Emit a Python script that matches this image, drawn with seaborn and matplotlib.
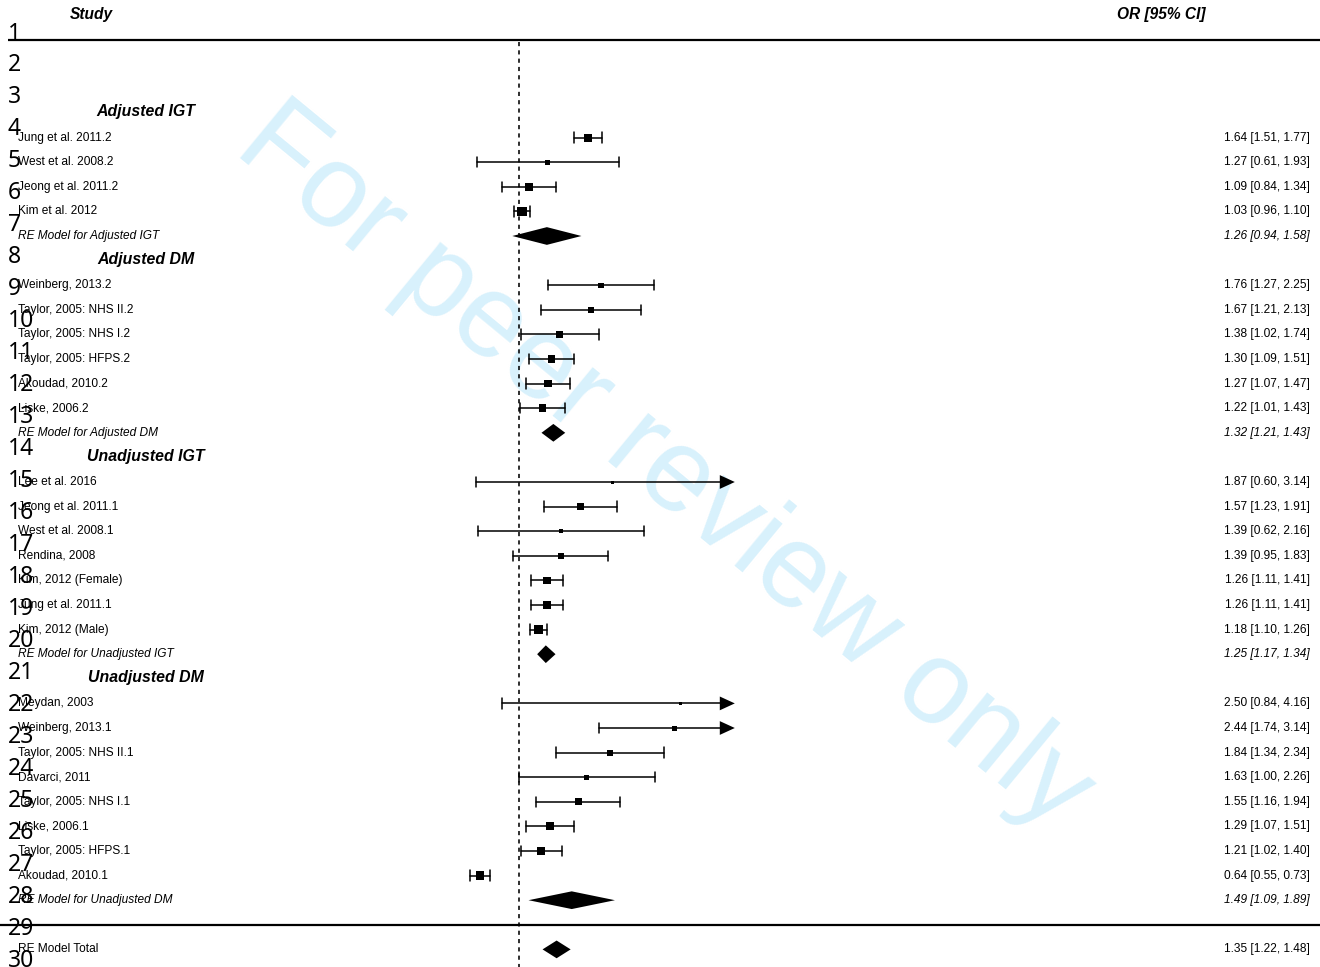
import numpy as np
import pandas as pd
import matplotlib
matplotlib.use("Agg")
import matplotlib.pyplot as plt
import seaborn as sns

# ---- data -------------------------------------------------------------
groups = ["Adjusted IGT", "Adjusted DM", "Unadjusted IGT", "Unadjusted DM"]

studies = [
    ["Jung et al. 2011.2", "West et al. 2008.2", "Jeong et al. 2011.2", "Kim et al. 2012"],
    ["Weinberg, 2013.2", "Taylor, 2005: NHS II.2", "Taylor, 2005: NHS I.2",
     "Taylor, 2005: HFPS.2", "Akoudad, 2010.2", "Liske, 2006.2"],
    ["Lee et al. 2016", "Jeong et al. 2011.1", "West et al. 2008.1", "Rendina, 2008",
     "Kim, 2012 (Female)", "Jung et al. 2011.1", "Kim, 2012 (Male)"],
    ["Meydan, 2003", "Weinberg, 2013.1", "Taylor, 2005: NHS II.1", "Davarci, 2011",
     "Taylor, 2005: NHS I.1", "Liske, 2006.1", "Taylor, 2005: HFPS.1", "Akoudad, 2010.1"],
]
odds = [
    [1.64, 1.27, 1.09, 1.03],
    [1.76, 1.67, 1.38, 1.30, 1.27, 1.22],
    [1.87, 1.57, 1.39, 1.39, 1.26, 1.26, 1.18],
    [2.50, 2.44, 1.84, 1.63, 1.55, 1.29, 1.21, 0.64],
]
ci_low = [
    [1.51, 0.61, 0.84, 0.96],
    [1.27, 1.21, 1.02, 1.09, 1.07, 1.01],
    [0.60, 1.23, 0.62, 0.95, 1.11, 1.11, 1.10],
    [0.84, 1.74, 1.34, 1.00, 1.16, 1.07, 1.02, 0.55],
]
ci_high = [
    [1.77, 1.93, 1.34, 1.10],
    [2.25, 2.13, 1.74, 1.51, 1.47, 1.43],
    [3.14, 1.91, 2.16, 1.83, 1.41, 1.41, 1.26],
    [4.16, 3.14, 2.34, 2.26, 1.94, 1.51, 1.40, 0.73],
]
# relative study weights (square side in pixels)
weight_px = [
    [8.0, 5.0, 8.0, 9.5],
    [5.3, 5.7, 6.7, 7.3, 7.7, 7.7],
    [3.0, 7.0, 4.5, 5.5, 7.7, 7.7, 8.7],
    [3.0, 5.0, 6.0, 5.0, 7.0, 8.0, 8.0, 8.5],
]

pooled_or = [1.26, 1.32, 1.25, 1.49]
pooled_low = [0.94, 1.21, 1.17, 1.09]
pooled_high = [1.58, 1.43, 1.34, 1.89]

total_or, total_low, total_high = 1.35, 1.22, 1.48

# ---- layout helpers ---------------------------------------------------
W, H = 1320, 967
ROW0_PX, ROW_PX = 113.0, 24.6      # pixel y of first row and row spacing
REF_PX, UNIT_PX = 518.8, 108.0     # pixel x of OR = 1 and pixels per OR unit
ALIM = 3.0                         # right clipping limit of the CI axis


def xd(px):
    return 1.0 + (px - REF_PX) / UNIT_PX


def yd(px):
    return (px - ROW0_PX) / ROW_PX


# assign rows: header, studies, pooled estimate per subgroup
recs = []
header_rows, pooled_rows = [], []
r = 0
for gi, g in enumerate(groups):
    header_rows.append(r)
    r += 1
    for name, o, lo, hi, w in zip(studies[gi], odds[gi], ci_low[gi], ci_high[gi], weight_px[gi]):
        recs.append(dict(study=name, group=g, OR=o, lo=lo, hi=hi, w=w, row=r))
        r += 1
    pooled_rows.append(r)
    r += 1
sep_row = r
total_row = r + 1
df = pd.DataFrame(recs)
df["s"] = (df["w"] * 0.72) ** 2

# ---- figure -----------------------------------------------------------
sns.set_theme(style="white")
plt.rcParams["font.family"] = ["Liberation Sans", "DejaVu Sans"]
plt.rcParams["text.color"] = "black"

fig = plt.figure(figsize=(W / 100, H / 100), dpi=100)
ax = fig.add_axes([0, 0, 1, 1])

# watermark
ax.text(xd(664), yd(468), "For peer review only", fontsize=85, color="#d8f1fc",
        rotation=-39.5, rotation_mode="anchor", ha="center", va="center", zorder=0)

# reference line and rules
ax.plot([1, 1], [yd(42), yd(H)], color="black", lw=1.15, dashes=(2.6, 2.6), zorder=1)
ax.plot([xd(8), xd(W)], [yd(40), yd(40)], color="black", lw=1.6, solid_capstyle="butt")
ax.plot([xd(0), xd(W)], [sep_row, sep_row], color="black", lw=1.6, solid_capstyle="butt")

# confidence intervals
lw_ci = 1.1
cap = 0.21
for _, d in df.iterrows():
    hi = min(d["hi"], ALIM)
    if d["hi"] > ALIM:
        ah, al = 0.28, 15 / UNIT_PX
        ax.plot([d["lo"], ALIM - al], [d["row"]] * 2, color="black", lw=lw_ci)
        ax.fill([ALIM - al, ALIM, ALIM - al], [d["row"] - ah, d["row"], d["row"] + ah],
                color="black", lw=0)
    else:
        ax.plot([d["lo"], hi], [d["row"]] * 2, color="black", lw=lw_ci)
        ax.plot([hi, hi], [d["row"] - cap, d["row"] + cap], color="black", lw=lw_ci)
    ax.plot([d["lo"], d["lo"]], [d["row"] - cap, d["row"] + cap], color="black", lw=lw_ci)

# study squares
sns.scatterplot(data=df, x="OR", y="row", marker="s", s=df["s"].to_numpy(),
                color="black", linewidth=0, legend=False, ax=ax, zorder=3)

# pooled diamonds
dh = 0.36
for row, est, lo, hi in zip(pooled_rows + [total_row], pooled_or + [total_or],
                            pooled_low + [total_low], pooled_high + [total_high]):
    ax.fill([lo, est, hi, est], [row, row - dh, row, row + dh], color="black", lw=0, zorder=3)

# text columns
lab_x = xd(18)
val_x = xd(1310)
fs = 8.6
for _, d in df.iterrows():
    ax.text(lab_x, d["row"], d["study"], fontsize=fs, ha="left", va="center")
    ax.text(val_x, d["row"], f"{d['OR']:.2f} [{d['lo']:.2f}, {d['hi']:.2f}]",
            fontsize=fs, ha="right", va="center")

for g, row, est, lo, hi in zip(groups, pooled_rows, pooled_or, pooled_low, pooled_high):
    ax.text(lab_x, row, f"RE Model for {g}", fontsize=fs, style="italic",
            ha="left", va="center")
    ax.text(val_x, row, f"{est:.2f} [{lo:.2f}, {hi:.2f}]", fontsize=fs,
            style="italic", ha="right", va="center")

for g, row in zip(groups, header_rows):
    ax.text(xd(146), row - 0.05, g, fontsize=11.4, weight="bold", style="italic",
            ha="center", va="center")

ax.text(lab_x, total_row, "RE Model Total", fontsize=fs, ha="left", va="center")
ax.text(val_x, total_row, f"{total_or:.2f} [{total_low:.2f}, {total_high:.2f}]",
        fontsize=fs, ha="right", va="center")

ax.text(xd(91), yd(14), "Study", fontsize=11.2, weight="bold", style="italic",
        ha="center", va="center")
ax.text(xd(1161), yd(14), "OR [95% CI]", fontsize=11.2, weight="bold", style="italic",
        ha="center", va="center")

# manuscript line numbers
for n in range(1, 31):
    ax.text(xd(8), yd(39.5 + (n - 1) * 31.97), str(n), fontsize=16.5,
            family=["Noto Sans", "DejaVu Sans"], ha="left", va="baseline", zorder=4)

ax.set_xlim(xd(0), xd(W))
ax.set_ylim(yd(H), yd(0))
ax.axis("off")

fig.savefig("out.png", dpi=100)
